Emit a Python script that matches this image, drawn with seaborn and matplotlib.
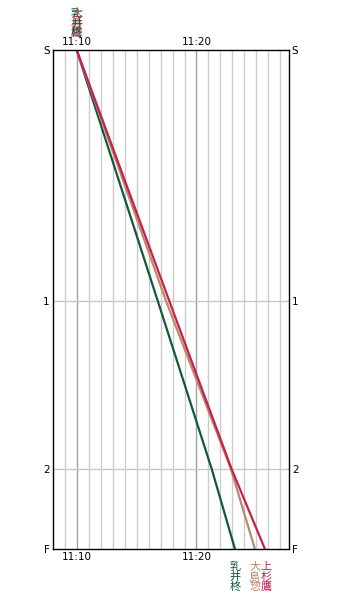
import matplotlib
matplotlib.use("Agg")
import matplotlib.pyplot as plt
import seaborn as sns
import pandas as pd
import numpy as np

# Stations (relative distance along course)
stations = ["S", "1", "2", "F"]
station_pos = [0, 251, 419, 499]

# Runners and their passing times (minutes after 11:00)
runners = ["乳井柊", "大島惣", "上杉鷹"]
colors = ["#15573a", "#b98a6c", "#c8204c"]
times_green = [10.0, 16.77, 21.27, 23.21]
times_brown = [10.0, 17.46, 22.875, 24.875]
times_red = [10.0, 17.73, 22.93, 25.71]
all_times = [times_green, times_brown, times_red]

xmin, xmax = 8.0, 27.72
major_ticks = [10, 20]
major_labels = ["11:10", "11:20"]

rows = []
for name, ts in zip(runners, all_times):
    for st, pos, t in zip(stations, station_pos, ts):
        rows.append({"runner": name, "time": t, "dist": pos})
df = pd.DataFrame(rows)

sns.set_style("white")
plt.rcParams["font.family"] = ["DejaVu Sans"]

fig = plt.figure(figsize=(3.41, 6.0), dpi=100)
ax = fig.add_axes([52.7 / 341, 1 - 549 / 600, (289 - 52.7) / 341, 499 / 600])

# grid
for m in range(9, 28):
    c = "#a0a0a0" if m % 10 == 0 else "#cccccc"
    ax.axvline(m, color=c, lw=1.0, zorder=0)
for pos in station_pos[1:-1]:
    ax.axhline(pos, color="#c8c8c8", lw=1.0, zorder=0)

sns.lineplot(data=df, x="time", y="dist", hue="runner", hue_order=runners,
             palette=colors, lw=1.6, legend=False, ax=ax, sort=False,
             estimator=None)

ax.set_xlim(xmin, xmax)
ax.set_ylim(station_pos[-1], station_pos[0])
ax.set_xlabel("")
ax.set_ylabel("")
ax.set_xticks(major_ticks)
ax.set_xticklabels(major_labels)
ax.set_yticks(station_pos)
ax.set_yticklabels(stations)
ax.tick_params(axis="both", length=0, labelsize=7.5, colors="black",
               labelleft=True, labelright=True, labeltop=True, labelbottom=True)
ax.tick_params(axis="x", pad=2)
ax.tick_params(axis="y", pad=2)
for s in ax.spines.values():
    s.set_color("black")
    s.set_linewidth(1.0)

cjk = ["Noto Sans CJK JP", "DejaVu Sans"]
# top labels (all start at same time)
for name, ts, c in zip(runners[::-1], all_times[::-1], colors[::-1]):
    ax.annotate("\n".join(name), xy=(ts[0], station_pos[0]), xycoords="data",
                xytext=(0, 8.5), textcoords="offset points", ha="center", va="bottom",
                fontsize=8.0, color=c, family=cjk, linespacing=0.96,
                annotation_clip=False)
# bottom labels
offs = [0, 0, 1]
for name, ts, c, o in zip(runners, all_times, colors, offs):
    ax.annotate("\n".join(name), xy=(ts[-1], station_pos[-1]), xycoords="data",
                xytext=(o, -9.5), textcoords="offset points", ha="center", va="top",
                fontsize=8.0, color=c, family=cjk, linespacing=0.96,
                annotation_clip=False)

fig.savefig("out.png", dpi=100)
